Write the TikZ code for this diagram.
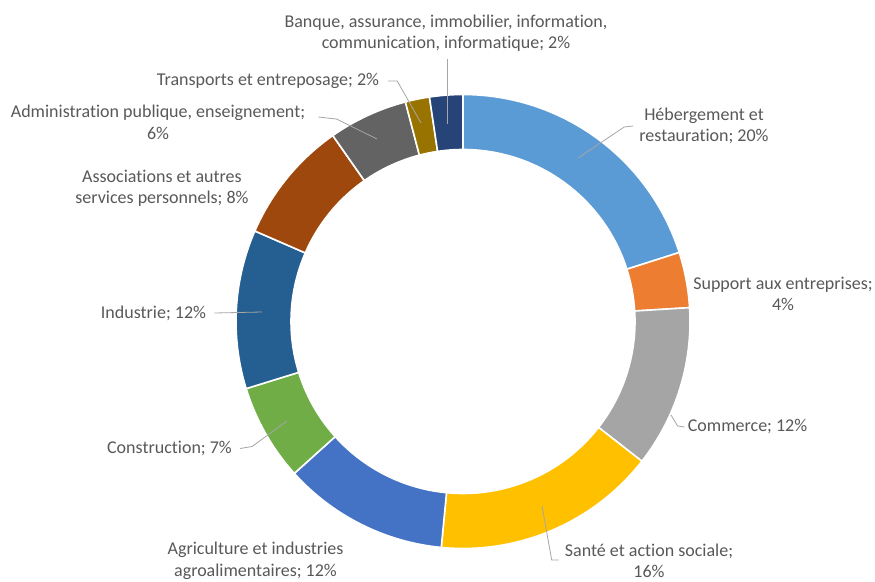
\documentclass[tikz,border=0pt]{standalone}
\usepackage{fontspec}
\setmainfont{Carlito}[Ligatures=NoCommon]
\definecolor{cHeb}{HTML}{5B9BD5}
\definecolor{cSup}{HTML}{ED7D31}
\definecolor{cCom}{HTML}{A5A5A5}
\definecolor{cSan}{HTML}{FFC000}
\definecolor{cAgr}{HTML}{4472C4}
\definecolor{cCon}{HTML}{70AD47}
\definecolor{cInd}{HTML}{255E91}
\definecolor{cAss}{HTML}{9E480E}
\definecolor{cAdm}{HTML}{636363}
\definecolor{cTra}{HTML}{997300}
\definecolor{cBan}{HTML}{264478}
\definecolor{labelgray}{HTML}{595959}
\definecolor{leadgray}{HTML}{A6A6A6}
\begin{document}
\begin{tikzpicture}[x=1pt,y=-1pt,
  lbl/.style={text=labelgray, align=center, inner sep=0pt, font=\fontsize{18}{21.5}\selectfont},
  leader/.style={draw=leadgray, line width=0.8pt},
  slice/.style={draw=white, line width=1.6pt, line join=miter}]
\useasboundingbox[fill=white] (0,0) rectangle (875,581);
% ring
\begin{scope}[shift={(463,321.5)}]
\foreach \a/\b/\c in {0/72.3/cHeb, 72.3/86.5/cSup, 86.5/128/cCom, 128/185.5/cSan,
  185.5/228/cAgr, 228/252.8/cCon, 252.8/293.5/cInd, 293.5/325/cAss,
  325/345.3/cAdm, 345.3/351.5/cTra, 351.5/360/cBan}{
  \filldraw[slice, fill=\c] ({90-\a}:227pt) arc[start angle={90-\a}, end angle={90-\b}, radius=227pt]
    -- ({90-\b}:172pt) arc[start angle={90-\b}, end angle={90-\a}, radius=172pt] -- cycle;
}
\end{scope}
% leader end points on the ring
\coordinate (banqueE) at (447,124);
\coordinate (transpE) at (421,123);
\coordinate (adminE) at (377,139);
\coordinate (hebE) at (578,158);
\coordinate (commE) at (671,415);
\coordinate (santeE) at (542,506);
\coordinate (constrE) at (287,421);
\coordinate (indusE) at (262,312);
% labels
\node[lbl] (banque) at (446,33) {Banque, assurance, immobilier, information,\\communication, informatique; 2\%};
\node[lbl] (transp) at (268,81) {Transports et entreposage; 2\%};
\node[lbl] (admin) at (158,122.5) {Administration publique, enseignement;\\6\%};
\node[lbl] (assoc) at (162,188.5) {Associations et autres\\services personnels; 8\%};
\node[lbl] (indus) at (153.5,313) {Industrie; 12\%};
\node[lbl] (constr) at (169.5,448.5) {Construction; 7\%};
\node[lbl] (agri) at (255.5,561) {Agriculture et industries\\agroalimentaires; 12\%};
\node[lbl] (sante) at (649,561) {Santé et action sociale;\\16\%};
\node[lbl] (comm) at (747.5,427) {Commerce; 12\%};
\node[lbl] (supp) at (783,294) {Support aux entreprises;\\4\%};
\node[lbl] (heb) at (704,126) {Hébergement et\\restauration; 20\%};
% leaders
\draw[leader] (banqueE |- banque.south) ++(0,7) -- (banqueE);
\draw[leader] ([xshift=9pt]transp.east) -- ++(9,0) -- (transpE);
\draw[leader] ([xshift=13pt,yshift=5.5pt]admin.east) -- ++(18,2) -- (adminE);
\draw[leader] ([xshift=-6pt]heb.west) -- ++(-9,1) -- (hebE);
\draw[leader] ([xshift=-3pt]comm.west) -- ++(-7,-1) -- (commE);
\draw[leader] ([xshift=-6pt,yshift=1pt]sante.west) -- ++(-7,0) -- (santeE);
\draw[leader] ([xshift=8pt]constr.east) -- ++(12,-2) -- (constrE);
\draw[leader] ([xshift=8pt]indus.east) -- (indusE);
\end{tikzpicture}
\end{document}
